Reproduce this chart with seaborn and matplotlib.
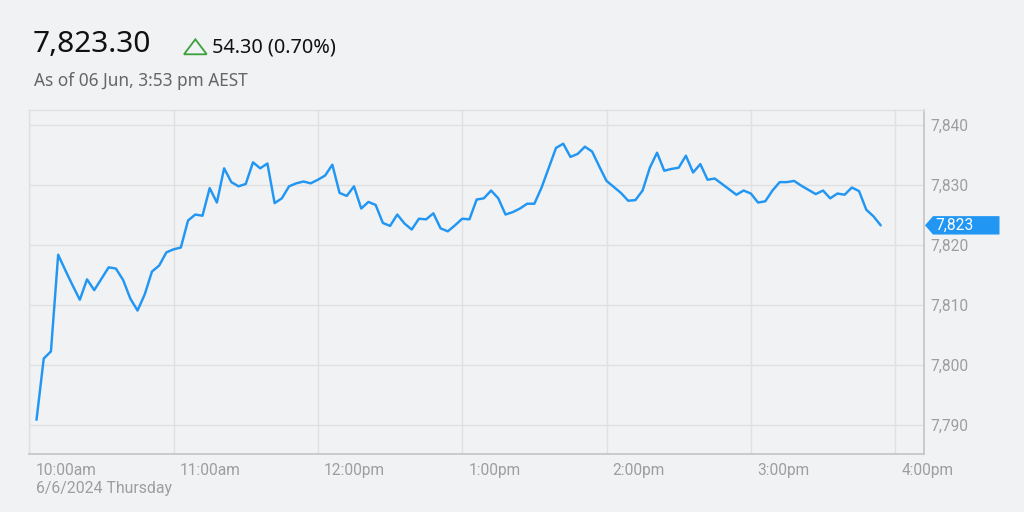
import numpy as np
import pandas as pd
import matplotlib
matplotlib.use("Agg")
import matplotlib.pyplot as plt
import matplotlib.dates as mdates
from matplotlib.patches import Polygon
from matplotlib.transforms import ScaledTranslation
import seaborn as sns

# ---------------- data ----------------
start_time = "2024-06-06 10:03"
interval_min = 3
values = [
    7790.9, 7801.1, 7802.3, 7818.4, 7815.8, 7813.3, 7810.9, 7814.3, 7812.5, 7814.4,
    7816.3, 7816.1, 7814.2, 7811.1, 7809.1, 7811.8, 7815.6, 7816.6, 7818.8, 7819.3,
    7819.6, 7824.1,
    7825.1, 7824.9, 7829.5, 7827.1, 7832.8, 7830.5, 7829.8, 7830.2, 7833.8, 7832.8,
    7833.6, 7827.0, 7827.8, 7829.8, 7830.3, 7830.6, 7830.3, 7830.9, 7831.6, 7833.4,
    7828.7,
    7828.2, 7829.8, 7826.1, 7827.2, 7826.7, 7823.7, 7823.2, 7825.1, 7823.6, 7822.6,
    7824.4, 7824.3, 7825.3, 7822.8, 7822.3, 7823.3, 7824.4, 7824.3, 7827.6, 7827.8,
    7829.1, 7827.8, 7825.1, 7825.5, 7826.1, 7826.9, 7826.9, 7829.6, 7832.9, 7836.2,
    7836.9, 7834.7, 7835.2, 7836.4, 7835.6, 7833.1, 7830.7, 7829.7, 7828.7, 7827.4,
    7827.5,
    7829.1, 7832.9, 7835.4, 7832.4, 7832.7, 7832.9, 7834.9, 7832.1, 7833.5, 7830.9,
    7831.1, 7830.2, 7829.3, 7828.4, 7829.1, 7828.6, 7827.1, 7827.3, 7829.1, 7830.5,
    7830.5, 7830.7, 7829.9, 7829.2, 7828.5, 7829.1, 7827.8, 7828.6, 7828.4, 7829.6,
    7829.0, 7825.9, 7824.8, 7823.3,
]
x_tick_times = ["10:00", "11:00", "12:00", "13:00", "14:00", "15:00", "16:00"]
x_tick_labels = ["10:00am", "11:00am", "12:00pm", "1:00pm", "2:00pm", "3:00pm", "4:00pm"]
y_ticks = [7790, 7800, 7810, 7820, 7830, 7840]
y_tick_labels = ["7,790", "7,800", "7,810", "7,820", "7,830", "7,840"]
last_price_text = "7,823.30"
change_text = "54.30 (0.70%)"
asof_text = "As of 06 Jun, 3:53 pm AEST"
date_text = "6/6/2024 Thursday"
last_label = "7,823"
x_start, x_end = "2024-06-06 10:00", "2024-06-06 16:12"
y_min, y_max = 7785.2, 7842.6

times = pd.date_range(start_time, periods=len(values), freq=f"{interval_min}min")
df = pd.DataFrame({"time": times, "value": values})

# ---------------- style ----------------
BG = "#f1f2f4"
BLUE = "#2196f3"
GRID = "#e0e0e0"
TICKC = "#9e9e9e"
sns.set_style("white", {"axes.facecolor": BG, "figure.facecolor": BG})
plt.rcParams["font.family"] = ["Roboto", "DejaVu Sans"]

W, H, DPI = 1024, 512, 100
fig = plt.figure(figsize=(W / DPI, H / DPI), dpi=DPI, facecolor=BG)
L, R, T, B = 29.3, 924, 109.5, 454
ax = fig.add_axes([L / W, 1 - B / H, (R - L) / W, (B - T) / H])
ax.set_facecolor(BG)

sns.lineplot(data=df, x="time", y="value", ax=ax, color=BLUE, linewidth=1.75)

ax.set_xlim(pd.Timestamp(x_start), pd.Timestamp(x_end))
ax.set_ylim(y_min, y_max)
ax.set_xlabel("")
ax.set_ylabel("")

xt = [pd.Timestamp("2024-06-06 " + t) for t in x_tick_times]
ax.set_xticks(xt)
ax.set_xticklabels(x_tick_labels)
ax.set_xticks([xt[0]], minor=True)
ax.set_yticks(y_ticks)
ax.set_yticklabels(y_tick_labels)

ax.yaxis.tick_right()
ax.tick_params(axis="y", length=0, pad=4.5, labelsize=11.2, labelcolor=TICKC)
ax.tick_params(axis="x", which="major", length=5, width=1, color="#d6d6d6",
               pad=1.5, labelsize=11.2, labelcolor=TICKC)
ax.tick_params(axis="x", which="minor", length=9.5, width=1, color="#d6d6d6")
for lab in ax.get_xticklabels():
    lab.set_ha("left")
    lab.set_transform(lab.get_transform() + ScaledTranslation(6 / DPI, 0, fig.dpi_scale_trans))

ax.grid(True, color=GRID, linewidth=1)
ax.set_axisbelow(True)
for s in ["left", "top"]:
    ax.spines[s].set_color(GRID)
    ax.spines[s].set_linewidth(1)
for s in ["right", "bottom"]:
    ax.spines[s].set_color("#c4c4c4")
    ax.spines[s].set_linewidth(1.2)

# ---------------- header texts ----------------
def fx(x):
    return x / W

def fy(y):
    return 1 - y / H

fig.text(fx(33), fy(44.5), last_price_text, fontsize=21.5, color="#111111",
         family=["Noto Sans", "DejaVu Sans"], va="center", ha="left")
tri = Polygon([[184, H - 54.3], [206.7, H - 54.3], [195.35, H - 39.3]], closed=True,
              fill=False, edgecolor="#3aa13a", linewidth=1.3, transform=None)
fig.patches.append(tri)
fig.text(fx(212.5), fy(47), change_text, fontsize=14.3, color="#111111",
         family=["Noto Sans", "DejaVu Sans"], va="center", ha="left")
fig.text(fx(33.5), fy(81), asof_text, fontsize=12.4, color="#666666",
         family=["Noto Sans", "DejaVu Sans"], va="center", ha="left")
fig.text(fx(35.5), fy(488.5), date_text, fontsize=11.4, color=TICKC,
         va="center", ha="left")

# ---------------- last price tag ----------------
fig.canvas.draw()
_, yd = ax.transData.transform((mdates.date2num(times[-1]), values[-1]))
xd = ax.transAxes.transform((1, 0))[0]
tip = xd + 1
hh = 9.2
tag = Polygon([[tip, yd], [tip + 8, yd + hh], [999.5, yd + hh], [999.5, yd - hh],
               [tip + 8, yd - hh]], closed=True, facecolor=BLUE, edgecolor="none",
              transform=None, zorder=5)
fig.patches.append(tag)
fig.text((tip + 10) / W, yd / H, last_label, fontsize=11.2, color="white",
         va="center", ha="left", zorder=6)

fig.savefig("out.png", dpi=DPI, facecolor=BG)
